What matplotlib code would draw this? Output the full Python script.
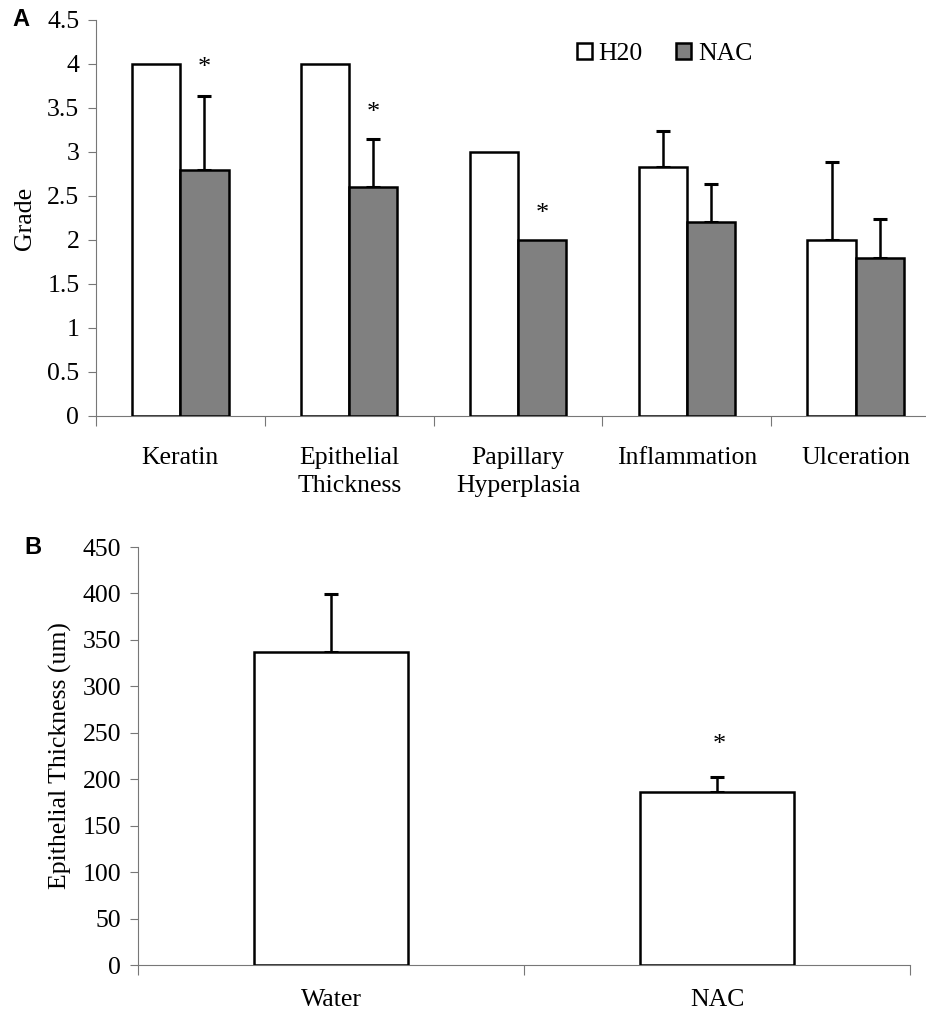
import numpy as np
import matplotlib
matplotlib.use("Agg")
import matplotlib.pyplot as plt

plt.rcParams['font.family'] = ['Liberation Serif', 'DejaVu Serif']

# panel A data
categories = ['Keratin', 'Epithelial\nThickness', 'Papillary\nHyperplasia',
              'Inflammation', 'Ulceration']
h2o_vals = [4.0, 4.0, 3.0, 2.83, 2.0]
h2o_err = [0.0, 0.0, 0.0, 0.41, 0.89]
nac_vals = [2.8, 2.6, 2.0, 2.2, 1.79]
nac_err = [0.84, 0.55, 0.0, 0.44, 0.45]
star_a = [3.95, 3.44, 2.3, None, None]

# panel B data
groups_b = ['Water', 'NAC']
thick_vals = [336.5, 186.0]
thick_err = [63.0, 16.0]
star_b = [None, 237]

W, H = 926, 1014
fig = plt.figure(figsize=(W / 100, H / 100), dpi=100)

def px_axes(left, top, right, bottom):
    return fig.add_axes([left / W, 1 - bottom / H, (right - left) / W, (bottom - top) / H])

edge = dict(edgecolor='black', linewidth=1.8)
ekw = dict(fmt='none', ecolor='black', elinewidth=1.8, capsize=5, capthick=2.2)
tick_fs = 18.5

# ---- panel A ----
ax = px_axes(96, 20, 940, 416)
bw = 0.285
x = np.arange(len(categories)) + 0.5
ax.bar(x - bw / 2, h2o_vals, bw, color='white', label='H20', **edge, zorder=3)
ax.bar(x + bw / 2, nac_vals, bw, color='#808080', label='NAC', **edge, zorder=3)
for xi, v, e in zip(x - bw / 2, h2o_vals, h2o_err):
    if e > 0:
        ax.errorbar(xi, v, yerr=[[0], [e]], zorder=2, **ekw)
for xi, v, e in zip(x + bw / 2, nac_vals, nac_err):
    if e > 0:
        ax.errorbar(xi, v, yerr=[[0], [e]], zorder=2, **ekw)
for xi, s in zip(x + bw / 2, star_a):
    if s is not None:
        ax.text(xi, s, '*', ha='center', va='center', fontsize=19)

ax.set_xlim(0, 5)
ax.set_ylim(0, 4.5)
ax.set_yticks(np.arange(0, 4.51, 0.5))
ax.set_yticklabels(['0', '0.5', '1', '1.5', '2', '2.5', '3', '3.5', '4', '4.5'])
ax.set_xticks(np.arange(0, 6))
ax.set_xticklabels([])
ax.set_xticks(x, minor=True)
ax.set_xticklabels(categories, minor=True, fontsize=tick_fs, linespacing=1.4)
ax.tick_params(axis='x', which='minor', length=0, pad=22)
ax.tick_params(axis='x', which='major', length=7, color='#777777', width=0.8)
ax.tick_params(axis='y', length=6, color='#777777', width=0.8, labelsize=tick_fs, pad=6)
for s in ['top', 'right']:
    ax.spines[s].set_visible(False)
for s in ['left', 'bottom']:
    ax.spines[s].set_color('#777777')
    ax.spines[s].set_linewidth(0.8)
ax.set_ylabel('Grade', fontsize=tick_fs, labelpad=8)
ax.legend(loc='upper left', bbox_to_anchor=(0.542, 1.0), ncol=2, frameon=False,
          fontsize=tick_fs, handlelength=0.6, handleheight=0.6, handletextpad=0.25,
          columnspacing=1.3)
fig.text(12 / W, 1 - 20 / H, 'A', fontsize=17, fontweight='bold',
         family='Liberation Sans', va='center', ha='left')

# ---- panel B ----
bx = px_axes(138, 547, 910, 965)
xb = np.arange(len(groups_b)) + 0.5
bwb = 0.40
bx.bar(xb, thick_vals, bwb, color='white', **edge, zorder=3)
for xi, v, e in zip(xb, thick_vals, thick_err):
    bx.errorbar(xi, v, yerr=[[0], [e]], zorder=2, **ekw)
for xi, s in zip(xb, star_b):
    if s is not None:
        bx.text(xi + 0.005, s, '*', ha='center', va='center', fontsize=19)
bx.set_xlim(0, 2)
bx.set_ylim(0, 450)
bx.set_yticks(np.arange(0, 451, 50))
bx.set_xticks([0, 1, 2])
bx.set_xticklabels([])
bx.set_xticks(xb, minor=True)
bx.set_xticklabels(groups_b, minor=True, fontsize=tick_fs)
bx.tick_params(axis='x', which='minor', length=0, pad=17)
bx.tick_params(axis='x', which='major', length=7, color='#777777', width=0.8)
bx.tick_params(axis='y', length=6, color='#777777', width=0.8, labelsize=tick_fs, pad=6)
for s in ['top', 'right']:
    bx.spines[s].set_visible(False)
for s in ['left', 'bottom']:
    bx.spines[s].set_color('#777777')
    bx.spines[s].set_linewidth(0.8)
bx.set_ylabel('Epithelial Thickness (um)', fontsize=tick_fs, labelpad=8)
fig.text(24 / W, 1 - 547 / H, 'B', fontsize=17, fontweight='bold',
         family='Liberation Sans', va='center', ha='left')

fig.savefig('out.png', dpi=100)
